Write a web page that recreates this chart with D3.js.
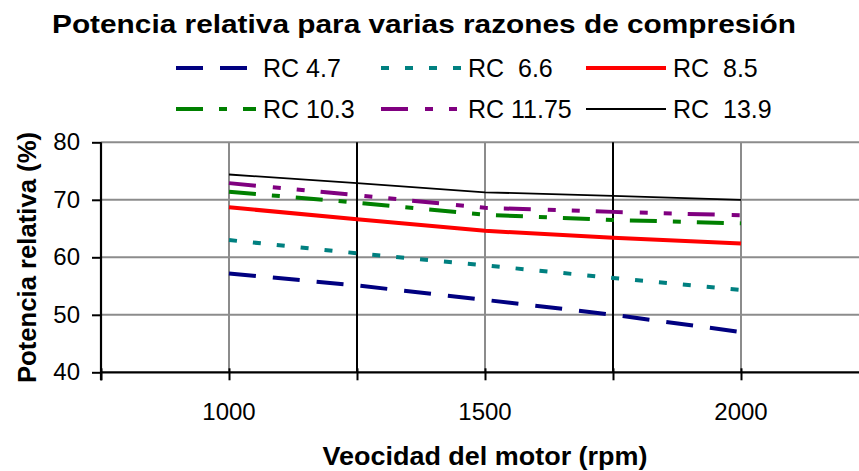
<!DOCTYPE html>
<html>
<head>
<meta charset="utf-8">
<script src="https://cdn.jsdelivr.net/npm/d3@7"></script>
<style>
    body { margin: 0; background: #fff; }
    svg { display: block; font-family: "Liberation Sans", Arial, sans-serif; }
    text { white-space: pre; }
</style>
</head>
<body>
<div id="chart"></div>
<script>
var rpm = [1000, 1250, 1500, 1750, 2000];
var rc47 = [57.2, 55.1, 52.6, 50.0, 47.0];
var rc66 = [63.0, 60.7, 58.6, 56.4, 54.3];
var rc85 = [68.7, 66.6, 64.6, 63.4, 62.4];
var rc103 = [71.4, 69.5, 67.4, 66.5, 65.9];
var rc1175 = [72.9, 70.8, 68.6, 67.9, 67.3];
var rc139 = [74.4, 72.9, 71.3, 70.7, 70.0];
var seriesNames = ["RC 4.7", "RC  6.6", "RC  8.5", "RC 10.3", "RC 11.75", "RC  13.9"];
var xTicks = [750, 1000, 1250, 1500, 1750, 2000, 2250];
var xLabels = [1000, 1500, 2000];
var yTicks = [40, 50, 60, 70, 80];

var width = 859,
    height = 471;

var series = [
    {name: seriesNames[0], values: rc47, color: "#000080", w: 4, dash: "27,17"},
    {name: seriesNames[1], values: rc66, color: "#008080", w: 4, dash: "8,16"},
    {name: seriesNames[2], values: rc85, color: "#ff0000", w: 4, dash: null},
    {name: seriesNames[3], values: rc103, color: "#008000", w: 4, dash: "27,16,8,16"},
    {name: seriesNames[4], values: rc1175, color: "#800080", w: 4, dash: "27,17,8,16,8,16"},
    {name: seriesNames[5], values: rc139, color: "#000000", w: 1.8, dash: null}
];

var x = d3.scaleLinear().domain([750, 2250]).range([101, 869]);
var y = d3.scaleLinear().domain([40, 80]).range([372.3, 142.3]);

var svg = d3.select("#chart").append("svg")
    .attr("width", width)
    .attr("height", height);

// title
svg.append("text")
    .attr("x", 52)
    .attr("y", 33)
    .attr("textLength", 744)
    .attr("lengthAdjust", "spacingAndGlyphs")
    .style("font-size", "25px")
    .style("font-weight", "bold")
    .text("Potencia relativa para varias razones de compresión");

/*
 * legend, 3 columns x 2 rows
 */
var legend = svg.append("g");
series.forEach(function(s, k) {
    var col = k % 3,
        row = Math.floor(k / 3),
        lx = 176 + col * 205,
        ly = 68 + row * 41;

    legend.append("line")
        .attr("x1", lx)
        .attr("x2", lx + 80)
        .attr("y1", ly)
        .attr("y2", ly)
        .attr("stroke", s.color)
        .attr("stroke-width", s.w)
        .attr("stroke-dasharray", s.dash);

    legend.append("text")
        .attr("x", lx + 87)
        .attr("y", ly + 8.5)
        .style("font-size", "25px")
        .text(s.name);
});

// gridlines
var grid = svg.append("g");
grid.selectAll(".hgrid")
    .data(yTicks.slice(1))
    .enter().append("line")
    .attr("x1", 101)
    .attr("x2", width)
    .attr("y1", function(d) { return y(d); })
    .attr("y2", function(d) { return y(d); })
    .attr("stroke", "#8c8c8c")
    .attr("stroke-width", 2);

grid.selectAll(".vgrid")
    .data(rpm)
    .enter().append("line")
    .attr("x1", function(d) { return x(d); })
    .attr("x2", function(d) { return x(d); })
    .attr("y1", y(80))
    .attr("y2", y(40))
    .attr("stroke", function(d) { return (d % 500 === 0) ? "#8c8c8c" : "#000"; })
    .attr("stroke-width", 2);

// axes
var xAxis = svg.append("g")
    .attr("transform", "translate(0," + y(40) + ")")
    .call(d3.axisBottom(x).tickValues(xTicks).tickSize(8).tickFormat(""));
xAxis.select(".domain").attr("stroke-width", 2.2).attr("d", "M101,0H" + width);
xAxis.selectAll(".tick line").attr("stroke-width", 2).attr("y1", -4);

svg.append("g")
    .selectAll("text")
    .data(xLabels)
    .enter().append("text")
    .attr("x", function(d) { return x(d); })
    .attr("y", 420)
    .attr("text-anchor", "middle")
    .style("font-size", "24px")
    .text(function(d) { return d; });

var yAxis = svg.append("g")
    .attr("transform", "translate(101,0)")
    .call(d3.axisLeft(y).tickValues(yTicks).tickSize(9).tickPadding(12));
yAxis.select(".domain").attr("stroke-width", 2.2).attr("d", "M0," + y(80) + "V" + (y(40) + 8));
yAxis.selectAll(".tick line").attr("stroke-width", 2);
yAxis.selectAll(".tick text")
    .style("font-size", "24px")
    .style("font-family", "'Liberation Sans', Arial, sans-serif")
    .attr("fill", "#000");

// axis titles
svg.append("text")
    .attr("x", 485)
    .attr("y", 465)
    .attr("text-anchor", "middle")
    .attr("textLength", 325)
    .attr("lengthAdjust", "spacingAndGlyphs")
    .style("font-size", "25px")
    .style("font-weight", "bold")
    .text("Veocidad del motor (rpm)");

svg.append("text")
    .attr("transform", "translate(36,257.5) rotate(-90)")
    .attr("text-anchor", "middle")
    .attr("textLength", 251)
    .attr("lengthAdjust", "spacingAndGlyphs")
    .style("font-size", "25px")
    .style("font-weight", "bold")
    .text("Potencia relativa (%)");

/*
 * series lines
 */
var line = d3.line()
    .x(function(d, i) { return x(rpm[i]); })
    .y(function(d) { return y(d); });

svg.append("g")
    .selectAll("path")
    .data(series)
    .enter().append("path")
    .attr("d", function(d) { return line(d.values); })
    .attr("fill", "none")
    .attr("stroke", function(d) { return d.color; })
    .attr("stroke-width", function(d) { return d.w; })
    .attr("stroke-dasharray", function(d) { return d.dash; });
</script>
</body>
</html>
